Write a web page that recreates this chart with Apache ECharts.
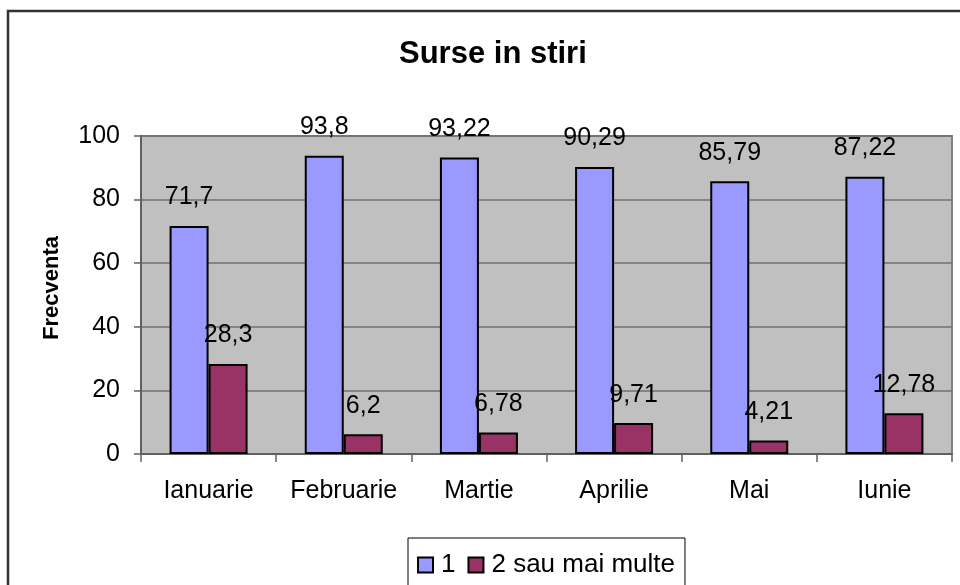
<!DOCTYPE html>
<html>
<head>
<meta charset="utf-8">
<script src="https://cdn.jsdelivr.net/npm/echarts@6/dist/echarts.min.js"></script>
<style>html,body{margin:0;padding:0;background:#fff}#c{width:960px;height:585px}</style>
</head>
<body>
<div id="c"></div>
<script>
const categories = ['Ianuarie', 'Februarie', 'Martie', 'Aprilie', 'Mai', 'Iunie'];
const seriesNames = ['1', '2 sau mai multe'];
const values1 = [71.7, 93.8, 93.22, 90.29, 85.79, 87.22];
const values2 = [28.3, 6.2, 6.78, 9.71, 4.21, 12.78];
const yTicks = { min: 0, max: 100, interval: 20 };

const font = 'Liberation Sans, Arial, sans-serif';
const chart = echarts.init(document.getElementById('c'), null, { renderer: 'canvas' });
const fmt = p => String(p.value).replace('.', ',');
const labelCfg = { show: true, position: 'top', distance: 16, color: '#000', fontSize: 25, fontFamily: font, formatter: fmt };

chart.setOption({
  animation: false,
  backgroundColor: '#fff',
  graphic: [{
    type: 'rect', shape: { x: 8, y: 11, width: 1000, height: 1000 },
    style: { fill: 'none', stroke: '#333', lineWidth: 2.5 }, silent: true, z: -1
  }],
  title: {
    text: 'Surse in stiri', left: 394, top: 34,
    textStyle: { fontFamily: font, fontWeight: 'bold', fontSize: 31, color: '#000' }
  },
  legend: {
    left: 408, top: 538,
    padding: [14, 10, 14, 9],
    borderColor: '#000', borderWidth: 1,
    itemWidth: 15, itemHeight: 15, itemGap: 12,
    icon: 'rect',
    itemStyle: { borderColor: '#000', borderWidth: 2 },
    textStyle: { fontFamily: font, fontSize: 26, color: '#000', padding: [0, 0, 0, 3] },
    data: seriesNames
  },
  grid: {
    left: 141, right: 8, top: 136, bottom: 131,
    show: true, backgroundColor: '#C0C0C0', borderColor: '#808080', borderWidth: 2
  },
  xAxis: {
    type: 'category', data: categories,
    axisLine: { lineStyle: { color: '#606060', width: 2 } },
    axisTick: { show: true, alignWithLabel: false, length: 8, lineStyle: { color: '#606060', width: 1.5 } },
    axisLabel: { color: '#000', fontSize: 25, fontFamily: font, margin: 25, interval: 0, hideOverlap: false }
  },
  yAxis: {
    type: 'value', min: yTicks.min, max: yTicks.max, interval: yTicks.interval,
    name: 'Frecventa', nameLocation: 'middle', nameRotate: 90, nameGap: 78,
    nameTextStyle: { fontFamily: font, fontWeight: 'bold', fontSize: 22, color: '#000', padding: [0, 0, 0, 14] },
    axisLine: { show: true, lineStyle: { color: '#606060', width: 2 } },
    axisTick: { show: true, length: 7, lineStyle: { color: '#606060', width: 1.5 } },
    axisLabel: { color: '#000', fontSize: 25, fontFamily: font, margin: 21 },
    splitLine: { show: true, lineStyle: { color: '#707070', width: 1.5 } }
  },
  series: [
    {
      name: seriesNames[0], type: 'bar', data: values1, barWidth: 39, barGap: '0%',
      itemStyle: { color: '#9999FF', borderColor: '#000', borderWidth: 2 },
      label: labelCfg
    },
    {
      name: seriesNames[1], type: 'bar', data: values2, barWidth: 39,
      itemStyle: { color: '#993366', borderColor: '#000', borderWidth: 2 },
      label: labelCfg
    }
  ]
});
</script>
</body>
</html>
